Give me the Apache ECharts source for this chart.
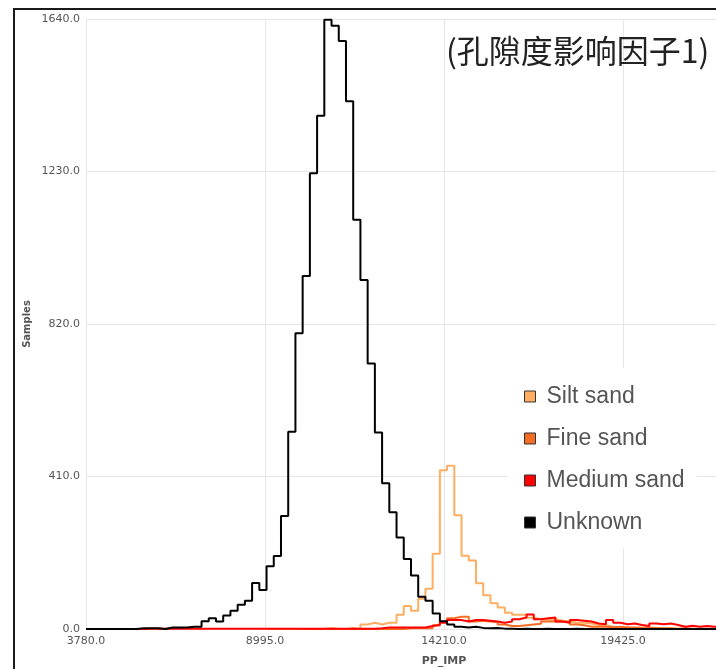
<!DOCTYPE html>
<html>
<head>
<meta charset="utf-8">
<script src="https://cdn.jsdelivr.net/npm/echarts@6/dist/echarts.min.js"></script>
<style>
html,body{margin:0;padding:0;background:#fff;overflow:hidden;width:716px;height:669px;}
#chart{width:822px;height:669px;}
</style>
</head>
<body>
<div id="chart"></div>
<script>
// ---- data ----
const titleText = '(孔隙度影响因子1)';
const xName = 'PP_IMP';
const yName = 'Samples';
const seriesNames = ['Silt sand', 'Fine sand', 'Medium sand', 'Unknown'];
const seriesColors = ['#FDAE61', '#F46D22', '#FF0000', '#000000'];
const xTicks = [3780, 8995, 14210, 19425, 24640];
const yTicks = [0, 410, 820, 1230, 1640];
const binStart = 3780;
const binWidth = 210.4;

// counts per bin (bin i starts at binStart + i*binWidth); null = no data
const unknownCounts = [
  0,0,0,0,0,0,0,2,2,2,
  0,4,4,4,6,6,21,29,20,36,
  49,65,76,124,105,169,196,304,530,795,
  949,1225,1380,1638,1622,1581,1419,1100,938,714,
  528,392,314,246,188,144,87,76,42,21,
  12,6,4,6,3,2,3,1,1,0,
  1,0,0,1,0,0,0,1,0,0,
  0,0,0,0,0,0,0,0,0,0,
  0,0,0,0,0,0,0,0,0,0,
  0,0,0,0,0,0,0,0,0,0
];
const siltCounts = [
  null,null,null,null,null,null,null,null,null,null,
  null,null,null,null,null,null,null,null,null,null,
  null,null,null,null,null,0,0,0,0,0,
  0,0,0,3,0,0,3,0,12,17,
  12,17,17,38,62,49,81,108,202,427,
  439,306,197,184,123,91,69,58,44,38,
  38,30,27,25,27,22,20,17,17,15,
  11,10,6,5,4,3,4,2,2,1,
  1,0,1,0,0,0,0,0,0,0,
  0,0,0,0,0,0,0,0,0,0
];
const fineCounts = [
  null,null,null,null,null,null,null,null,null,null,
  null,null,null,null,null,null,null,null,null,null,
  null,null,null,null,null,null,null,null,null,null,
  0,0,0,0,0,0,0,0,0,0,
  0,0,0,0,2,2,2,2,10,20,
  29,33,33,20,22,20,18,12,8,8,
  10,12,14,20,21,20,18,12,10,6,
  6,6,5,6,4,4,3,4,3,2,
  2,1,2,1,1,1,0,1,0,0,
  0,0,0,0,0,0,0,0,0,0
];
const mediumCounts = [
  null,null,null,null,null,null,null,0,1,1,
  1,1,1,1,1,1,1,1,1,1,
  1,1,1,1,1,1,1,1,1,1,
  1,1,1,1,1,1,1,1,1,1,
  2,4,4,4,4,4,4,8,11,17,
  24,24,20,24,24,22,20,17,20,26,
  31,39,26,29,31,20,17,24,22,20,
  15,13,24,17,13,15,11,8,15,13,
  15,11,6,9,6,8,6,6,5,4,
  6,3,4,3,2,3,2,2,1,1
];

function toSteps(counts) {
  const pts = [];
  counts.forEach((c, i) => {
    pts.push([binStart + i * binWidth, c === null ? null : c]);
  });
  const last = counts[counts.length - 1];
  pts.push([binStart + counts.length * binWidth, last]);
  return pts;
}
const allCounts = [siltCounts, fineCounts, mediumCounts, unknownCounts];

const chart = echarts.init(document.getElementById('chart'), null, {renderer: 'canvas'});
const labelFont = {fontFamily: '"DejaVu Sans", Verdana, sans-serif', fontSize: 11, color: '#555'};

chart.setOption({
  animation: false,
  backgroundColor: '#fff',
  grid: {left: 86, right: 20, top: 19, bottom: 40, containLabel: false, outerBoundsMode: 'none'},
  graphic: [
    {type: 'rect', z: 100, silent: true,
     shape: {x: 14, y: 9, width: 900, height: 900},
     style: {fill: 'none', stroke: '#1a1a1a', lineWidth: 2}},
    {type: 'text', z: 100, left: 446, top: 35,
     style: {text: titleText, font: '400 32px "Noto Sans CJK SC", sans-serif', fill: '#222'}}
  ],
  legend: {
    left: 508, top: 368,
    orient: 'vertical',
    backgroundColor: '#fff',
    padding: [17, 12, 14, 16],
    itemGap: 19,
    itemWidth: 11, itemHeight: 11,
    icon: 'rect',
    itemStyle: {borderColor: '#333', borderWidth: 1},
    textStyle: {fontFamily: 'Liberation Sans, Arial, sans-serif', fontSize: 23, color: '#555', lineHeight: 20, padding: [0, 0, 0, 6]},
    data: seriesNames
  },
  xAxis: {
    type: 'value', min: xTicks[0], max: xTicks[xTicks.length - 1], interval: xTicks[1] - xTicks[0],
    name: xName, nameLocation: 'middle', nameGap: 27,
    nameTextStyle: {fontFamily: '"DejaVu Sans", Verdana, sans-serif', fontSize: 11, fontWeight: 'bold', color: '#555'},
    axisLine: {show: false}, axisTick: {show: false},
    axisLabel: Object.assign({margin: 7, formatter: v => v.toFixed(1)}, labelFont),
    splitLine: {show: true, lineStyle: {color: '#e6e6e6', width: 1}}
  },
  yAxis: {
    type: 'value', min: yTicks[0], max: yTicks[yTicks.length - 1], interval: yTicks[1] - yTicks[0],
    name: yName, nameLocation: 'middle', nameGap: 54, nameMoveOverlap: false,
    nameTextStyle: {fontFamily: '"DejaVu Sans", Verdana, sans-serif', fontSize: 10, fontWeight: 'bold', color: '#555'},
    axisLine: {show: false}, axisTick: {show: false},
    axisLabel: Object.assign({margin: 6, formatter: v => v.toFixed(1)}, labelFont),
    splitLine: {show: true, lineStyle: {color: '#e6e6e6', width: 1}}
  },
  series: seriesNames.map((name, k) => ({
    name: name,
    type: 'line',
    step: 'end',
    showSymbol: false,
    symbol: 'none',
    connectNulls: false,
    clip: true,
    color: seriesColors[k],
    itemStyle: {color: seriesColors[k]},
    lineStyle: {color: seriesColors[k], width: 2},
    data: toSteps(allCounts[k])
  }))
});
</script>
</body>
</html>
